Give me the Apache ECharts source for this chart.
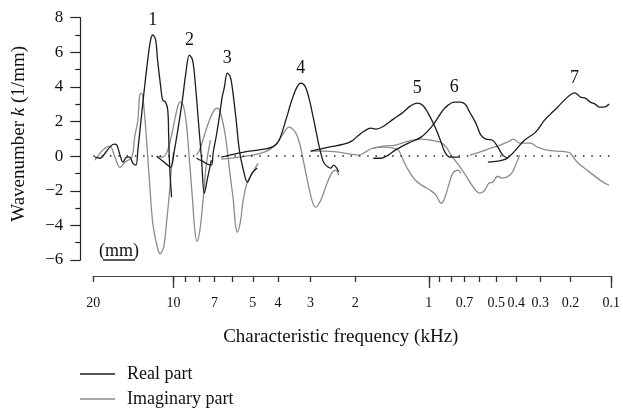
<!DOCTYPE html>
<html>
<head>
<meta charset="utf-8">
<script src="https://cdn.jsdelivr.net/npm/echarts@6/dist/echarts.min.js"></script>
<style>html,body{margin:0;padding:0;background:#fff}#c{width:623px;height:411px}</style>
</head>
<body>
<div id="c"></div>
<script>
// Cochlear place (mm from base) vs wavenumber k (1/mm)
const tickFreqs  = [20,10,9,8,7,6,5,4,3,2,1,0.9,0.8,0.7,0.6,0.5,0.4,0.3,0.2,0.1];
const labelFreqs = [20,10,7,5,4,3,2,1,0.7,0.5,0.4,0.3,0.2,0.1];
const majorFreqs = [10,1,0.1];
const peakLabels = ['1','2','3','4','5','6','7'];
const yTicks = [-6,-4,-2,0,2,4,6,8];
const legendNames = ['Real part','Imaginary part'];

// Greenwood map (chinchilla) frequency (kHz) -> distance from base (mm)
const GW = {A:163.5, a:2.1, k:0.85, L:17.75};
function placeMm(fkHz){ return GW.L*(1 - Math.log10(fkHz*1000/GW.A + GW.k)/GW.a); }

// [position mm, k]
const real1 = [[0.13,-0.06],[0.29,-0.12],[0.45,0.17],[0.60,0.52],[0.73,0.69],[0.82,0.64],[0.92,0.06],[1.01,-0.35],[1.13,-0.06],[1.23,-0.06],[1.32,-0.40],[1.42,-0.52],[1.48,0.35],[1.57,1.91],[1.67,3.64],[1.79,5.55],[1.88,6.71],[1.95,7.0],[2.04,6.71],[2.10,5.55],[2.20,3.99],[2.26,3.24],[2.35,3.12],[2.42,2.66],[2.45,1.10],[2.48,-0.64],[2.54,-2.37]];
const real2 = [[2.07,0],[2.23,-0.23],[2.38,-0.46],[2.51,-0.64],[2.63,0.35],[2.76,1.79],[2.88,3.24],[2.98,4.68],[3.10,5.84],[3.20,5.55],[3.29,4.10],[3.38,2.08],[3.48,-0.12],[3.57,-2.14],[3.67,-1.27],[3.79,-0.23]];
const real3 = [[3.32,-0.12],[3.51,-0.29],[3.67,-0.46],[3.79,-0.52],[3.85,0.23],[3.95,1.21],[4.04,2.25],[4.13,3.41],[4.20,3.99],[4.29,4.80],[4.38,4.62],[4.45,3.93],[4.57,2.08],[4.67,0.35],[4.82,-0.98],[4.92,-1.50],[5.07,-0.98],[5.23,-0.69]];
const real4 = [[4.10,-0.06],[4.51,0.12],[4.98,0.29],[5.45,0.40],[5.76,0.58],[5.92,0.92],[6.13,2.08],[6.32,3.24],[6.48,3.99],[6.60,4.22],[6.73,4.05],[6.85,3.41],[7.01,2.08],[7.17,0.64],[7.29,-0.23],[7.38,-0.52],[7.54,-0.69],[7.63,-0.52],[7.73,-0.69],[7.79,-0.92]];
const real5 = [[6.91,0.29],[7.48,0.52],[7.95,0.69],[8.20,0.87],[8.42,1.21],[8.60,1.45],[8.79,1.62],[8.98,1.56],[9.20,1.73],[9.51,2.14],[9.82,2.54],[10.04,2.89],[10.26,3.06],[10.42,2.95],[10.60,2.49],[10.82,1.68],[11.01,0.81],[11.13,0.23],[11.29,-0.06],[11.60,-0.06]];
const real6 = [[8.88,-0.12],[9.13,-0.12],[9.35,0.06],[9.57,0.35],[9.98,0.75],[10.38,1.10],[10.70,1.68],[10.92,2.25],[11.07,2.66],[11.23,2.95],[11.42,3.12],[11.60,3.12],[11.76,3.01],[11.91,2.54],[12.10,1.91],[12.26,1.21],[12.42,0.98],[12.63,0.92],[12.79,0.52],[12.95,0.06],[13.10,-0.12]];
const real7 = [[12.48,-0.35],[12.79,-0.29],[13.04,-0.17],[13.20,0.06],[13.35,0.35],[13.63,0.92],[13.98,1.39],[14.26,2.08],[14.45,2.43],[14.67,2.83],[14.82,3.12],[14.98,3.41],[15.10,3.58],[15.20,3.66],[15.29,3.58],[15.39,3.41],[15.54,3.35],[15.70,3.12],[15.85,3.01],[15.98,2.83],[16.13,2.83],[16.29,3.01]];

const imag1 = [[0.13,-0.23],[0.38,0.35],[0.60,0.58],[0.76,-0.06],[0.92,-0.64],[1.07,-0.35],[1.29,-0.06],[1.38,1.10],[1.48,2.08],[1.54,3.53],[1.60,3.64],[1.67,2.83],[1.76,0.75],[1.85,-1.56],[1.95,-3.87],[2.10,-5.32],[2.18,-5.64],[2.29,-5.26],[2.38,-3.87],[2.48,-1.97],[2.54,-0.64],[2.60,0.23]];
const imag2 = [[2.07,0],[2.26,-0.06],[2.42,0.35],[2.54,1.21],[2.67,2.37],[2.76,3.01],[2.82,3.12],[2.92,2.83],[3.01,1.79],[3.10,-0.23],[3.20,-2.54],[3.27,-4.28],[3.34,-4.93],[3.43,-4.28],[3.53,-2.54],[3.63,-0.52],[3.76,0.92]];
const imag3 = [[3.32,0.06],[3.42,0.35],[3.57,1.21],[3.73,2.08],[3.88,2.66],[3.98,2.77],[4.07,2.54],[4.20,1.50],[4.29,0.35],[4.38,-1.10],[4.48,-2.54],[4.54,-3.82],[4.60,-4.39],[4.70,-3.82],[4.79,-2.54],[4.92,-1.50],[5.04,-1.10],[5.17,-0.69],[5.26,-0.40]];
const imag4 = [[4.10,-0.17],[4.67,-0.06],[5.23,0.12],[5.60,0.35],[5.85,0.75],[6.04,1.27],[6.23,1.68],[6.35,1.56],[6.48,1.21],[6.60,0.46],[6.76,-0.98],[6.95,-2.54],[7.07,-2.95],[7.23,-2.54],[7.38,-1.79],[7.57,-0.98],[7.70,-0.81],[7.79,-1.10]];
const imag5 = [[6.91,0.29],[7.32,0.29],[7.79,0.23],[8.17,0.12],[8.42,0.06],[8.57,0.17],[8.73,0.35],[8.88,0.46],[9.20,0.52],[9.51,0.46],[9.67,0.35],[9.82,-0.23],[9.98,-0.81],[10.20,-1.39],[10.45,-1.73],[10.67,-1.97],[10.85,-2.25],[11.01,-2.72],[11.10,-2.54],[11.23,-1.79],[11.38,-0.98],[11.54,-0.81],[11.63,-0.98]];
const imag6 = [[8.88,0.46],[9.20,0.58],[9.57,0.64],[9.98,0.87],[10.38,0.98],[10.70,0.92],[10.98,0.81],[11.17,0.52],[11.32,0.06],[11.54,-0.46],[11.76,-1.04],[11.98,-1.68],[12.23,-2.14],[12.38,-1.97],[12.51,-1.56],[12.63,-1.50],[12.79,-1.16],[12.92,-1.27],[13.07,-1.21],[13.23,-0.98],[13.35,-0.52],[13.48,0.06]];
const imag7 = [[11.92,0.06],[12.32,0.29],[12.57,0.46],[12.79,0.58],[13.01,0.75],[13.17,0.87],[13.26,0.98],[13.35,0.92],[13.48,0.75],[13.82,0.75],[14.04,0.52],[14.35,0.35],[14.67,0.29],[14.98,0.23],[15.07,0.17],[15.29,-0.35],[15.60,-0.81],[15.92,-1.27],[16.10,-1.50],[16.29,-1.68]];

const scaleBar = [0.39, 1.39]; // 1 mm scale bar (mm)

const reals = [real1,real2,real3,real4,real5,real6,real7];
const imags = [imag1,imag2,imag3,imag4,imag5,imag6,imag7];

const FONT = '"Liberation Serif", "DejaVu Serif", serif';
const REAL_C = '#1c1c1c', IMAG_C = '#8c8c8c';
const xMin = placeMm(20), xMax = placeMm(0.1);
const labelPos = labelFreqs.map(placeMm);
function labelFor(v){
  let bi = 0, bd = 1e9;
  labelPos.forEach((p,i)=>{ const d = Math.abs(p-v); if (d<bd){bd=d;bi=i;} });
  return String(labelFreqs[bi]);
}

const series = [];
imags.forEach((d,i)=>{
  series.push({name:legendNames[1], type:'line', data:d, symbol:'none', smooth:0.35, z:2,
    lineStyle:{color:IMAG_C, width:1.3}, itemStyle:{color:IMAG_C}});
});
reals.forEach((d,i)=>{
  const s = {name:legendNames[0], type:'line', data:d, symbol:'none', smooth:0.35, z:3,
    lineStyle:{color:REAL_C, width:1.3}, itemStyle:{color:REAL_C},
    markPoint:{symbol:'circle', symbolSize:0, silent:true,
      data:[{type:'max', valueDim:'y'}],
      label:{show:true, position:'top', distance:6, formatter:peakLabels[i],
        fontFamily:FONT, fontSize:18, color:'#111'}}};
  if (i===0){
    s.clip = false;
    s.markLine = {silent:true, symbol:['none','none'], animation:false,
      data:[
        {yAxis:0, lineStyle:{type:[1.5,6.8], color:'#222', width:1.5}, label:{show:false}},
        [{coord:[scaleBar[0],-6], lineStyle:{type:'solid', color:'#222', width:1.5},
          label:{show:true, position:'middle', formatter:'(mm)', distance:0, fontFamily:FONT, fontSize:18, color:'#111'}},
         {coord:[scaleBar[1],-6]}]
      ]};
  }
  series.push(s);
});

function legendRow(name, top){
  return {data:[name], orient:'horizontal', left:80, top:top, padding:0,
    icon:'rect', itemWidth:35, itemHeight:1.4, selectedMode:false,
    textStyle:{fontFamily:FONT, fontSize:18, color:'#111', padding:[0,0,0,7]}};
}

const chart = echarts.init(document.getElementById('c'), null, {renderer:'canvas'});
chart.setOption({
  animation:false,
  grid:{left:93.3, right:9.4, top:17.7, bottom:151},
  legend:[legendRow(legendNames[0], 365), legendRow(legendNames[1], 390)],
  xAxis:[{
    type:'value', min:xMin, max:xMax, position:'bottom', offset:16,
    name:'Characteristic frequency (kHz)', nameLocation:'middle', nameGap:52,
    nameTextStyle:{fontFamily:FONT, fontSize:19, color:'#111', padding:[0,23,0,0]},
    axisLine:{show:true, onZero:false, lineStyle:{color:'#444', width:1.2}},
    axisTick:{show:true, length:6, lineStyle:{color:'#333', width:1.3}, customValues: tickFreqs.map(placeMm)},
    axisLabel:{show:true, margin:20, fontFamily:FONT, fontSize:14, color:'#111',
      customValues: labelPos, formatter:(v)=>labelFor(v)},
    splitLine:{show:false}
  },{
    type:'value', min:xMin, max:xMax, position:'bottom', offset:16,
    axisLine:{show:false, onZero:false},
    axisTick:{show:true, length:12, lineStyle:{color:'#333', width:1.3}, customValues: majorFreqs.map(placeMm)},
    axisLabel:{show:false}, splitLine:{show:false}
  }],
  yAxis:{
    type:'value', min:yTicks[0], max:yTicks[yTicks.length-1], interval:2, offset:13,
    name:'{n|Wavenumber }{i|k}{n| (1/mm)}', nameLocation:'middle', nameRotate:90, nameGap:52,
    nameTextStyle:{padding:[0,0,0,10], rich:{
      n:{fontFamily:FONT, fontSize:19, color:'#111'},
      i:{fontFamily:FONT, fontSize:19, fontStyle:'italic', color:'#111'}}},
    axisLine:{show:true, onZero:false, lineStyle:{color:'#222', width:1.2}},
    axisTick:{show:true, length:10, lineStyle:{color:'#222', width:1.2}},
    minorTick:{show:true, splitNumber:2, length:5, lineStyle:{color:'#222', width:1.2}},
    axisLabel:{margin:17, fontFamily:FONT, fontSize:17, color:'#111',
      formatter:(v)=> v<0 ? '\u2212'+Math.abs(v) : String(v)},
    splitLine:{show:false}, minorSplitLine:{show:false}
  },
  series:series
});
</script>
</body>
</html>
